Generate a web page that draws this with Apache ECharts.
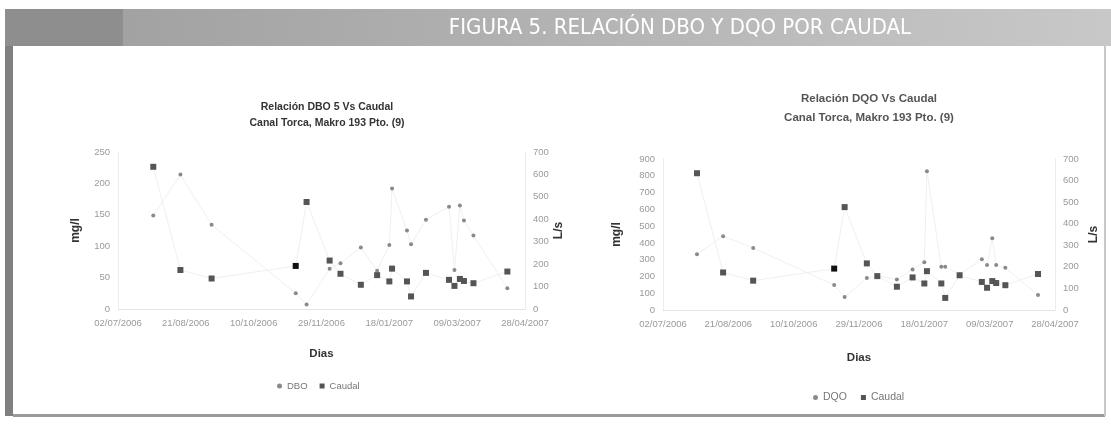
<!DOCTYPE html>
<html><head><meta charset="utf-8">
<script src="https://cdn.jsdelivr.net/npm/echarts@6/dist/echarts.min.js"></script>
<style>html,body{margin:0;padding:0;background:#fff}#c{width:1111px;height:424px}</style>
</head><body><div id="c"></div>
<script>
// ---- data ----
const dates = ['2006-07-28','2006-08-17','2006-09-09','2006-11-10','2006-11-18','2006-12-05','2006-12-13','2006-12-28',
  '2007-01-09','2007-01-18','2007-01-20','2007-01-31','2007-02-03','2007-02-14','2007-03-03','2007-03-07','2007-03-11',
  '2007-03-14','2007-03-21','2007-04-15'];
const caudal = [634,174,136,192,477,216,157,108,151,123,180,123,56,161,130,103,134,125,115,167];
const dbo = [149,214,134,25,7,64,73,98,61,102,192,125,103,142,163,62,165,141,117,33];
const dqo = [332,440,370,149,77,191,205,182,242,284,827,258,258,212,302,268,427,268,252,89];
const xTickLabels = ['02/07/2006','21/08/2006','10/10/2006','29/11/2006','18/01/2007','09/03/2007','28/04/2007'];
const dboTicks = [0,50,100,150,200,250];
const dqoTicks = [0,100,200,300,400,500,600,700,800,900];
const caudalTicks = [0,100,200,300,400,500,600,700];

// ---- helpers ----
const START = Date.UTC(2006,6,2);
function dayOf(s){const p=s.split('-').map(Number);return Math.round((Date.UTC(p[0],p[1]-1,p[2])-START)/86400000);}
const days = dates.map(dayOf);
const HIGHLIGHT = 3;
function pts(vals, dark){
  return vals.map((v,i)=> (dark && i===HIGHLIGHT) ? {value:[days[i],v], itemStyle:{color:'#111'}} : [days[i],v]);
}
const chart = echarts.init(document.getElementById('c'), null, {renderer:'canvas'});
const labelStyle = {color:'#9a9a9a', fontSize:9.5, fontFamily:'Liberation Sans, Arial'};
const nameStyle = {color:'#333', fontSize:12, fontWeight:'bold', fontFamily:'Liberation Sans, Arial'};
function xAxis(g){
  return {type:'value', gridIndex:g, min:0, max:300, interval:50,
    axisLine:{show:true, lineStyle:{color:'#e4e4e4'}}, axisTick:{show:false}, splitLine:{show:false},
    axisLabel:Object.assign({margin:9, formatter:v=>xTickLabels[Math.round(v/50)]||''}, labelStyle),
    name:'Dias', nameLocation:'middle', nameGap:g===0?39:42, nameTextStyle:Object.assign({}, nameStyle, {fontSize:11.5})};
}
function yAxis(g, ticks, pos, name, gap){
  return {type:'value', gridIndex:g, position:pos, min:ticks[0], max:ticks[ticks.length-1], interval:ticks[1]-ticks[0],
    axisLine:{show:true, lineStyle:{color:'#ececec'}}, axisTick:{show:false}, splitLine:{show:false},
    axisLabel:Object.assign({margin:8}, labelStyle),
    name:name, nameLocation:'middle', nameRotate:90, nameGap:gap, nameTextStyle:nameStyle};
}
function series(name, vals, x, y, sym, size, color, dark){
  return {type:'line', name:name, xAxisIndex:x, yAxisIndex:y, data:pts(vals, dark), symbol:sym, symbolSize:size,
    showAllSymbol:true, itemStyle:{color:color}, lineStyle:{color:'#f0f0f0', width:1}, z: dark?3:2, animation:false};
}
chart.setOption({
  animation:false,
  backgroundColor:'#ffffff',
  graphic:[
    {type:'rect', shape:{x:5,y:9,width:118,height:37}, style:{fill:'#8e8e8e'}},
    {type:'rect', shape:{x:123,y:9,width:988,height:37}, style:{fill:new echarts.graphic.LinearGradient(0,0,1,0,[{offset:0,color:'#a2a2a2'},{offset:1,color:'#c8c8c8'}])}},
    {type:'rect', shape:{x:5,y:46,width:8,height:370}, style:{fill:'#808080'}},
    {type:'rect', shape:{x:13,y:414,width:1092,height:3}, style:{fill:'#9a9a9a'}},
    {type:'rect', shape:{x:1104,y:46,width:2,height:370}, style:{fill:'#c8c8c8'}},
    {type:'text', x:680, y:28, style:{text:'FIGURA 5. RELACIÓN DBO Y DQO POR CAUDAL', fill:'#ffffff', font:'22px "Liberation Sans Narrow", "DejaVu Sans Condensed", sans-serif', textAlign:'center', textVerticalAlign:'middle'}}
  ],
  title:[
    {text:'Relación DBO 5 Vs Caudal\nCanal Torca, Makro 193 Pto. (9)', left:322, top:94, textAlign:'center',
     textStyle:{fontSize:10.5, lineHeight:16, fontWeight:'bold', color:'#333', fontFamily:'Liberation Sans, Arial'}},
    {text:'Relación DQO Vs Caudal\nCanal Torca, Makro 193 Pto. (9)', left:864, top:84, textAlign:'center',
     textStyle:{fontSize:11.5, lineHeight:19, fontWeight:'bold', color:'#555', fontFamily:'Liberation Sans, Arial'}}
  ],
  legend:[
    {data:[{name:'DBO',icon:'circle'},{name:'Caudal',icon:'rect'}], left:272, top:376, itemWidth:5, itemHeight:5, itemGap:12,
     textStyle:{fontSize:9.5, color:'#777', fontFamily:'Liberation Sans, Arial'}},
    {data:[{name:'DQO',icon:'circle'},{name:'Caudal',icon:'rect'}], left:808, top:387, itemWidth:5, itemHeight:5, itemGap:14,
     textStyle:{fontSize:10.5, color:'#777', fontFamily:'Liberation Sans, Arial'}}
  ],
  grid:[
    {left:118, top:152, width:407, height:157},
    {left:663, top:159, width:392, height:151}
  ],
  xAxis:[xAxis(0), xAxis(1)],
  yAxis:[
    yAxis(0, dboTicks, 'left', 'mg/l', 36),
    yAxis(0, caudalTicks, 'right', 'L/s', 23),
    yAxis(1, dqoTicks, 'left', 'mg/l', 40),
    yAxis(1, caudalTicks, 'right', 'L/s', 33)
  ],
  series:[
    series('DBO', dbo, 0, 0, 'circle', 4, '#8a8a8a', false),
    series('Caudal', caudal, 0, 1, 'rect', 6, '#555555', true),
    series('DQO', dqo, 1, 2, 'circle', 4, '#8a8a8a', false),
    series('Caudal', caudal, 1, 3, 'rect', 6, '#555555', true)
  ]
});
</script></body></html>
